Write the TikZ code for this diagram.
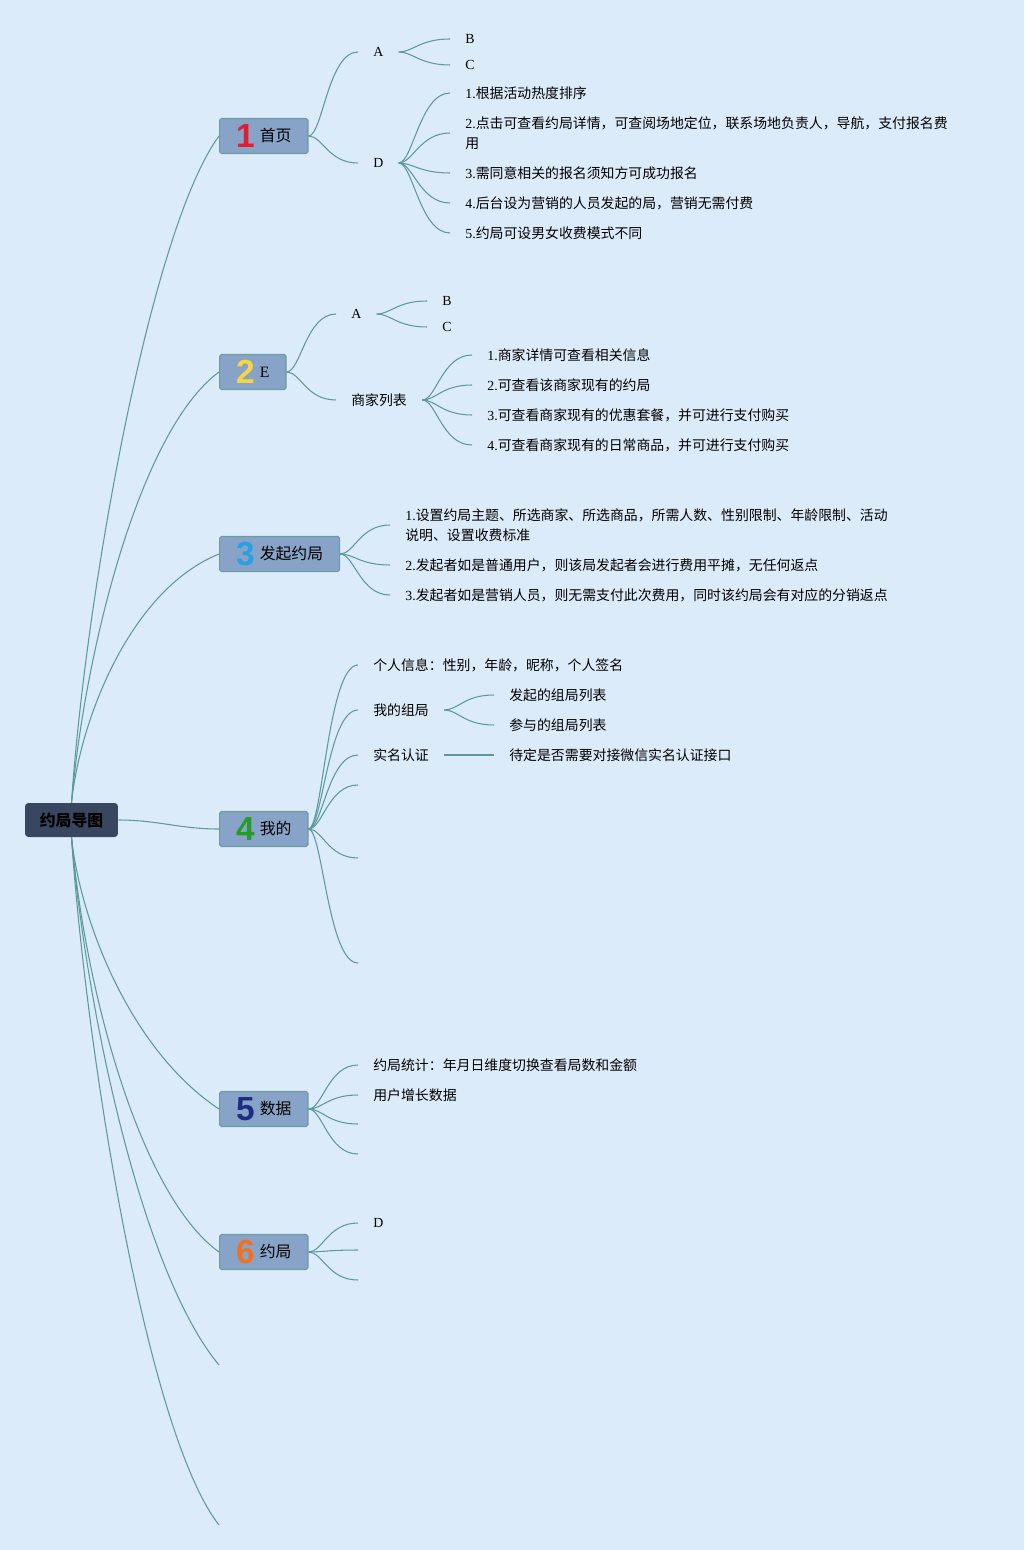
\documentclass[tikz,border=0pt]{standalone}
\usepackage{fontspec}
\setmainfont{Noto Sans CJK SC}
\newfontfamily\lat{Liberation Serif}
\newfontfamily\numfont{Liberation Sans}
\newcommand\latn[1]{{\lat #1}}
\newcommand\bignum[2]{{\numfont\bfseries\fontsize{19}{19}\selectfont\color{#1}#2}\hspace{3pt}}
\newcommand\boxlabel[1]{\raisebox{3.6pt}{#1}}
\definecolor{bgblue}{RGB}{220,235,250}
\definecolor{linkteal}{RGB}{92,154,152}
\definecolor{boxblue}{RGB}{136,163,200}
\definecolor{boxedge}{RGB}{108,156,160}
\definecolor{rootblue}{RGB}{56,70,96}
\definecolor{numA}{RGB}{224,30,50}
\definecolor{numB}{RGB}{244,214,64}
\definecolor{numC}{RGB}{42,160,226}
\definecolor{numD}{RGB}{36,156,40}
\definecolor{numE}{RGB}{30,44,130}
\definecolor{numF}{RGB}{242,112,30}
\begin{document}
\begin{tikzpicture}[x=0.02cm,y=-0.02cm,
    link/.style={draw=linkteal,line width=0.6pt},
    sub/.style={link,to path={.. controls +(14,0) and +(-30,0) .. (\tikztotarget)}},
    root/.style={fill=rootblue,rounded corners=2pt,minimum width=1.86cm,minimum height=0.68cm,
        inner sep=0pt,font=\fontsize{9}{9}\selectfont\bfseries},
    box/.style={fill=boxblue,draw=boxedge,line width=0.6pt,rounded corners=1pt,anchor=west,
        minimum height=0.7cm,inner ysep=0pt,inner xsep=0.33cm,font=\fontsize{9}{9}\selectfont},
    topic/.style={anchor=west,inner xsep=0.3cm,inner ysep=1pt,align=left,
        font=\fontsize{7.9}{11.3}\selectfont}]
\fill[bgblue] (0,0) rectangle (1024,1550);
\useasboundingbox (0,0) rectangle (1024,1550);

% central topic and main branches
\node[root] (root) at (71.5,820) {约局导图};
\node[box] (b1) at (219,136) {\bignum{numA}{1}\boxlabel{首页}};
\node[box] (b2) at (219,372) {\bignum{numB}{2}\boxlabel{\latn{E}}};
\node[box] (b3) at (219,554) {\bignum{numC}{3}\boxlabel{发起约局}};
\node[box] (b4) at (219,829) {\bignum{numD}{4}\boxlabel{我的}};
\node[box] (b5) at (219,1109) {\bignum{numE}{5}\boxlabel{数据}};
\node[box] (b6) at (219,1252) {\bignum{numF}{6}\boxlabel{约局}};
\coordinate (e71) at (219,1365);
\coordinate (e72) at (219,1525);

\draw[link] (root.north) .. controls (85,600) and (150,230) .. (b1.west);
\draw[link] (root.north) .. controls (85,650) and (140,430) .. (b2.west);
\draw[link] (root.north) .. controls (80,720) and (130,590) .. (b3.west);
\draw[link] (root.east) to[out=0,in=180] (b4.west);
\draw[link] (root.south) .. controls (80,920) and (130,1050) .. (b5.west);
\draw[link] (root.south) .. controls (85,990) and (140,1195) .. (b6.west);
\draw[link] (root.south) .. controls (85,1000) and (140,1270) .. (e71);
\draw[link] (root.south) .. controls (85,1040) and (145,1430) .. (e72);

% branch 1
\node[topic] (a1) at (358,52) {\latn{A}};
\node[topic] (a1b) at (450,39) {\latn{B}};
\node[topic] (a1c) at (450,65) {\latn{C}};
\node[topic] (d1) at (358,163) {\latn{D}};
\node[topic] (d1a) at (450,93) {\latn{1.}根据活动热度排序};
\node[topic] (d1b) at (450,133) {\latn{2.}点击可查看约局详情，可查阅场地定位，联系场地负责人，导航，支付报名费\\用};
\node[topic] (d1c) at (450,173) {\latn{3.}需同意相关的报名须知方可成功报名};
\node[topic] (d1d) at (450,203) {\latn{4.}后台设为营销的人员发起的局，营销无需付费};
\node[topic] (d1e) at (450,233) {\latn{5.}约局可设男女收费模式不同};
\draw[sub] (b1.east) to (a1.west);
\draw[sub] (b1.east) to (d1.west);
\draw[sub] (a1.east) to (a1b.west);
\draw[sub] (a1.east) to (a1c.west);
\foreach \n in {d1a,d1b,d1c,d1d,d1e}
    \draw[sub] (d1.east) to (\n.west);

% branch 2
\node[topic] (a2) at (336,314) {\latn{A}};
\node[topic] (a2b) at (427,301) {\latn{B}};
\node[topic] (a2c) at (427,327) {\latn{C}};
\node[topic] (s2) at (336,400) {商家列表};
\node[topic] (s2a) at (472,355) {\latn{1.}商家详情可查看相关信息};
\node[topic] (s2b) at (472,385) {\latn{2.}可查看该商家现有的约局};
\node[topic] (s2c) at (472,415) {\latn{3.}可查看商家现有的优惠套餐，并可进行支付购买};
\node[topic] (s2d) at (472,445) {\latn{4.}可查看商家现有的日常商品，并可进行支付购买};
\draw[sub] (b2.east) to (a2.west);
\draw[sub] (b2.east) to (s2.west);
\draw[sub] (a2.east) to (a2b.west);
\draw[sub] (a2.east) to (a2c.west);
\foreach \n in {s2a,s2b,s2c,s2d}
    \draw[sub] (s2.east) to (\n.west);

% branch 3
\node[topic] (f3a) at (390,525) {\latn{1.}设置约局主题、所选商家、所选商品，所需人数、性别限制、年龄限制、活动\\说明、设置收费标准};
\node[topic] (f3b) at (390,565) {\latn{2.}发起者如是普通用户，则该局发起者会进行费用平摊，无任何返点};
\node[topic] (f3c) at (390,595) {\latn{3.}发起者如是营销人员，则无需支付此次费用，同时该约局会有对应的分销返点};
\foreach \n in {f3a,f3b,f3c}
    \draw[sub] (b3.east) to (\n.west);

% branch 4
\node[topic] (p4) at (358,665) {个人信息：性别，年龄，昵称，个人签名};
\node[topic] (g4) at (358,710) {我的组局};
\node[topic] (r4) at (358,755) {实名认证};
\node[topic] (g4a) at (494,695) {发起的组局列表};
\node[topic] (g4b) at (494,725) {参与的组局列表};
\node[topic] (r4a) at (494,755) {待定是否需要对接微信实名认证接口};
\coordinate (e41) at (358,785);
\coordinate (e42) at (358,858);
\coordinate (e43) at (358,963);
\foreach \n in {p4.west,g4.west,r4.west,e41,e42,e43}
    \draw[sub] (b4.east) to (\n);
\draw[sub] (g4.east) to (g4a.west);
\draw[sub] (g4.east) to (g4b.west);
\draw[sub] (r4.east) to (r4a.west);

% branch 5
\node[topic] (t5) at (358,1065) {约局统计：年月日维度切换查看局数和金额};
\node[topic] (u5) at (358,1095) {用户增长数据};
\coordinate (e51) at (358,1124);
\coordinate (e52) at (358,1154);
\foreach \n in {t5.west,u5.west,e51,e52}
    \draw[sub] (b5.east) to (\n);

% branch 6
\node[topic] (d6) at (358,1223) {\latn{D}};
\coordinate (e61) at (358,1250);
\coordinate (e62) at (358,1280);
\foreach \n in {d6.west,e61,e62}
    \draw[sub] (b6.east) to (\n);
\end{tikzpicture}
\end{document}
